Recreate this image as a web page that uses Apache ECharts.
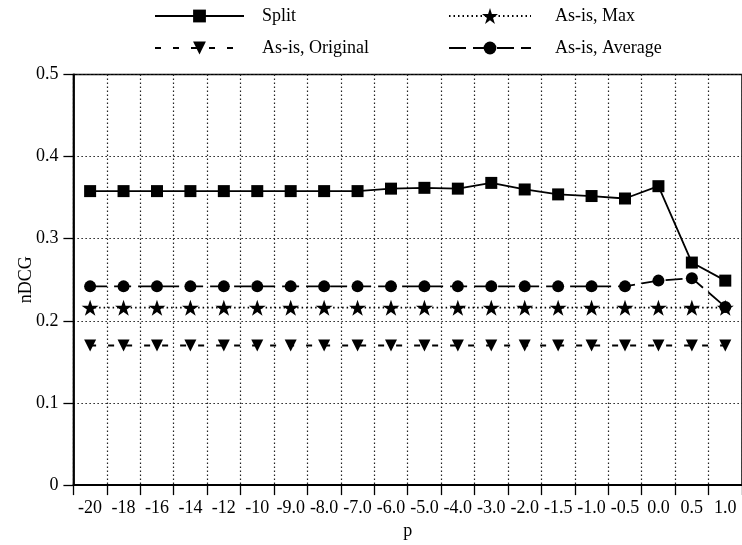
<!DOCTYPE html>
<html><head><meta charset="utf-8">
<script src="https://cdn.jsdelivr.net/npm/echarts@6/dist/echarts.min.js"></script>
<style>html,body{margin:0;padding:0;background:#fff}#c{width:742px;height:545px}</style>
</head><body><div id="c"></div>
<script>
const categories = ['-20','-18','-16','-14','-12','-10','-9.0','-8.0','-7.0','-6.0','-5.0','-4.0','-3.0','-2.0','-1.5','-1.0','-0.5','0.0','0.5','1.0'];
const splitValues = [0.358,0.358,0.358,0.358,0.358,0.358,0.358,0.358,0.358,0.361,0.362,0.361,0.368,0.360,0.354,0.352,0.349,0.364,0.271,0.249];
const maxValues = [0.216,0.216,0.216,0.216,0.216,0.216,0.216,0.216,0.216,0.216,0.216,0.216,0.216,0.216,0.216,0.216,0.216,0.216,0.216,0.216];
const originalValues = [0.170,0.170,0.170,0.170,0.170,0.170,0.170,0.170,0.170,0.170,0.170,0.170,0.170,0.170,0.170,0.170,0.170,0.170,0.170,0.170];
const averageValues = [0.242,0.242,0.242,0.242,0.242,0.242,0.242,0.242,0.242,0.242,0.242,0.242,0.242,0.242,0.242,0.242,0.242,0.249,0.252,0.217];
const seriesNames = ['Split','As-is, Max','As-is, Original','As-is, Average'];

const FONT = "'Liberation Serif','Times New Roman',serif";
const STAR = 'path://M50,0L61.2,34.5L97.6,34.5L68.2,55.9L79.4,90.5L50,69.1L20.6,90.5L31.8,55.9L2.4,34.5L38.8,34.5Z';
const dotted = {color:'#222', width:1.2, type:[1.5,2.5]};

function legend(name, left, top, itemWidth, itemHeight, pad){
  return {data:[name], left:left, top:top, padding:0, itemWidth:itemWidth, itemHeight:itemHeight,
    selectedMode:false, textStyle:{fontFamily:FONT, fontSize:18, color:'#000', padding:[0,0,0,pad]}};
}

const chart = echarts.init(document.getElementById('c'), null, {renderer:'canvas'});
chart.setOption({
  animation:false,
  backgroundColor:'#fff',
  legend:[
    legend(seriesNames[0],154,7,89,16,13),
    legend(seriesNames[1],448,7,82,20,19),
    legend(seriesNames[2],154,39,89,16,13),
    legend(seriesNames[3],448,39,82,16,19)
  ],
  grid:{left:73.4, top:74.5, width:671.2, height:411, show:true, borderColor:'#000', borderWidth:1.5, backgroundColor:'transparent'},
  xAxis:{type:'category', data:categories, boundaryGap:true,
    name:'p', nameLocation:'middle', nameGap:34,
    nameTextStyle:{fontFamily:FONT, fontSize:18, color:'#000'},
    axisLine:{lineStyle:{color:'#000', width:1.8}},
    axisTick:{show:true, length:10, lineStyle:{color:'#000', width:1.3}},
    axisLabel:{interval:0, margin:14, fontFamily:FONT, fontSize:18, color:'#000'},
    splitLine:{show:true, interval:0, lineStyle:dotted}
  },
  yAxis:{type:'value', min:0, max:0.5, interval:0.1,
    name:'nDCG', nameLocation:'middle', nameGap:38, nameMoveOverlap:false,
    nameTextStyle:{fontFamily:FONT, fontSize:18, color:'#000'},
    axisLine:{show:true, lineStyle:{color:'#000', width:1.8}},
    axisTick:{show:true, length:10, lineStyle:{color:'#000', width:1.3}},
    axisLabel:{margin:15, fontFamily:FONT, fontSize:18, color:'#000'},
    splitLine:{show:true, lineStyle:dotted}
  },
  series:[
    {name:seriesNames[0], type:'line', data:splitValues, symbol:'rect', symbolSize:12,
      lineStyle:{color:'#000', width:1.8, type:'solid'}, itemStyle:{color:'#000'}},
    {name:seriesNames[3], type:'line', data:averageValues, symbol:'circle', symbolSize:12,
      lineStyle:{color:'#000', width:1.8, type:[17,7]}, itemStyle:{color:'#000'}},
    {name:seriesNames[2], type:'line', data:originalValues, symbol:'triangle', symbolRotate:180, symbolSize:12,
      lineStyle:{color:'#000', width:1.8, type:[6,12]}, itemStyle:{color:'#000'}},
    {name:seriesNames[1], type:'line', data:maxValues, symbol:STAR, symbolKeepAspect:true, symbolSize:17,
      lineStyle:{color:'#000', width:1.8, type:[1.5,3]}, itemStyle:{color:'#000'}}
  ]
});
</script></body></html>
